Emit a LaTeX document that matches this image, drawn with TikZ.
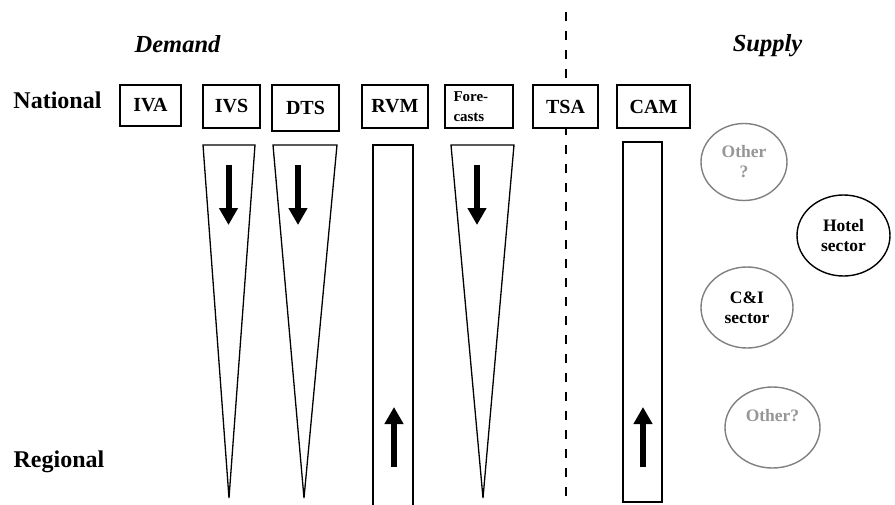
\documentclass[tikz,border=0pt]{standalone}
\usepackage{fontspec}
\setmainfont{Liberation Serif}
\usetikzlibrary{positioning, shapes.geometric, arrows.meta}
\definecolor{ringgray}{RGB}{128,128,128}
\definecolor{textgray}{RGB}{150,150,150}

\begin{document}
\begin{tikzpicture}[x=1pt, y=-1pt,
level label/.style={font=\fontsize{24}{26}\selectfont\bfseries},
side label/.style={font=\fontsize{24.5}{26}\selectfont\bfseries\itshape},
model box/.style={rectangle, draw, fill=white, line width=2pt, minimum height=43pt, inner sep=2pt, font=\fontsize{20}{22}\selectfont\bfseries},
sector node/.style={ellipse, draw, line width=1.4pt, align=center, inner sep=0pt, font=\fontsize{17.5}{20}\selectfont\bfseries},
flow arrow/.style={line width=6pt, -{Triangle[width=18pt,length=17pt]}}]

\useasboundingbox (0,0) rectangle (895,504);

% split between demand and supply
\coordinate (split top) at (566,12);
\coordinate (split bottom) at (566,504);
\draw[line width=2.6pt, dash pattern=on 8.5pt off 10.5pt] (split top) -- (split bottom);

\node[side label] (demand) at (177.5,44) {Demand};
\node[side label] (supply) at (767.5,46) {Supply};
\node[level label] (national) at (57.5,100) {National};
\node[level label] (regional) at (59,462) {Regional};

\node[model box, minimum width=61pt, minimum height=41pt] (IVA) at (150.5,105.5) {IVA};
\node[model box, minimum width=57pt] (IVS) at (231.5,106.5) {IVS};
\node[model box, minimum width=67pt, minimum height=46pt] (DTS) at (305.5,108) {DTS};
\node[model box, minimum width=66pt] (RVM) at (395,106.5) {RVM};
\node[model box, minimum width=68pt, text width=51pt, align=left, font=\fontsize{15}{20}\selectfont\bfseries] (FC) at (479,106.5) {Fore-\\casts};
\node[model box, minimum width=65pt] (TSA) at (565.5,106.5) {TSA};
\node[model box, minimum width=73pt] (CAM) at (653.5,106.5) {CAM};

% top-down and bottom-up channels
\draw[line width=1.3pt, line join=miter] (203,145) -- (255,145) -- (229,498) -- cycle;
\draw[line width=1.3pt, line join=miter] (273,145) -- (337,145) -- (304,498) -- cycle;
\draw[line width=1.3pt, line join=miter] (451,145) -- (514,145) -- (483,498) -- cycle;
\draw[line width=1.3pt] (373,510) -- (373,145) -- (413,145) -- (413,510);
\draw[line width=2pt] (623,142) rectangle (662,502);

\coordinate (ivs from) at (228.5,165);   \coordinate (ivs to) at (228.5,225);
\coordinate (dts from) at (298,165);     \coordinate (dts to) at (298,225);
\coordinate (fc from) at (477,165);      \coordinate (fc to) at (477,225);
\coordinate (rvm from) at (394,467);     \coordinate (rvm to) at (394,407);
\coordinate (cam from) at (643,467);     \coordinate (cam to) at (643,407);
\draw[flow arrow] (ivs from) -- (ivs to);
\draw[flow arrow] (dts from) -- (dts to);
\draw[flow arrow] (fc from) -- (fc to);
\draw[flow arrow] (rvm from) -- (rvm to);
\draw[flow arrow] (cam from) -- (cam to);

\node[sector node, draw=ringgray, text=textgray, minimum width=86pt, minimum height=77pt] (other1) at (744,162) {Other\\?};
\node[sector node, minimum width=93pt, minimum height=81pt] (hotel) at (843.5,235.5) {Hotel\\sector};
\node[sector node, draw=ringgray, minimum width=92pt, minimum height=81pt] (CI) at (747,307.5) {C\&I\\sector};
\node[sector node, draw=ringgray, text=textgray, minimum width=95pt, minimum height=81pt] (other2) at (772.5,427.5) {\raisebox{6pt}[0pt][0pt]{Other?}};
\end{tikzpicture}
\end{document}
